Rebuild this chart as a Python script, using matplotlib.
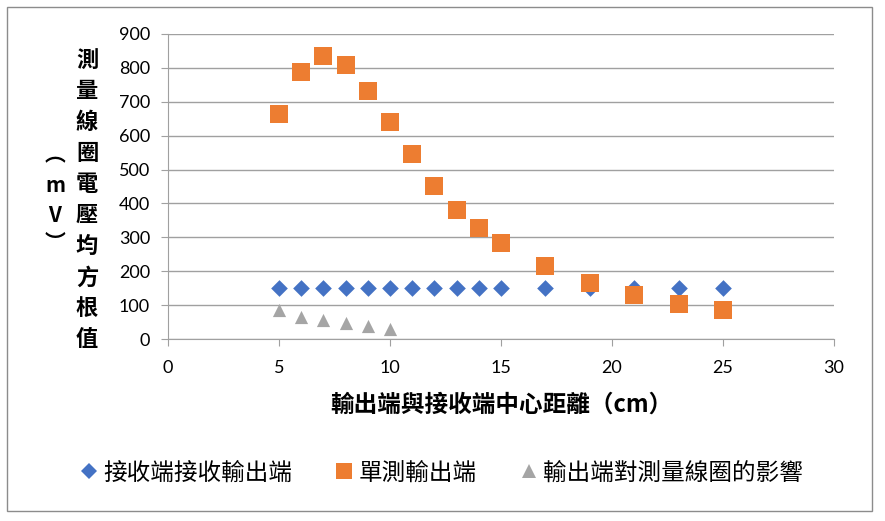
import matplotlib.pyplot as plt
from matplotlib.patches import Rectangle
from matplotlib.lines import Line2D

# data
dist_recv = [5, 6, 7, 8, 9, 10, 11, 12, 13, 14, 15, 17, 19, 21, 23, 25]
volt_recv = [150, 150, 150, 150, 150, 150, 150, 150, 150, 150, 150, 150, 150, 150, 150, 150]

dist_single = [5, 6, 7, 8, 9, 10, 11, 12, 13, 14, 15, 17, 19, 21, 23, 25]
volt_single = [664, 788, 835, 808, 732, 640, 546, 451, 381, 327, 283, 215, 165, 130, 103, 86]

dist_effect = [5, 6, 7, 8, 9, 10]
volt_effect = [85, 65, 55, 47, 37, 30]

names = ['接收端接收輸出端', '單測輸出端', '輸出端對測量線圈的影響']
colors = ['#4472C4', '#ED7D31', '#A5A5A5']

cjk = ['Noto Sans CJK TC', 'DejaVu Sans']
grey = '#a0a0a0'

fig = plt.figure(figsize=(8.85, 5.21), dpi=100)
ax = fig.add_axes([168/885, 1 - 339/521, (834-168)/885, (339-34)/521])

ax.scatter(dist_recv, volt_recv, marker='D', s=72, color=colors[0], linewidths=0, zorder=3)
ax.scatter(dist_single, volt_single, marker='s', s=150, color=colors[1], linewidths=0, zorder=4)
ax.scatter(dist_effect, volt_effect, marker='^', s=90, color=colors[2], linewidths=0, zorder=3)

ax.set_xlim(0, 30)
ax.set_ylim(0, 900)
ax.set_xticks(range(0, 31, 5))
ax.set_yticks(range(0, 901, 100))
ax.yaxis.grid(True, color=grey, lw=1)
ax.set_axisbelow(True)
for s in ['top', 'right']:
    ax.spines[s].set_visible(False)
for s in ['left', 'bottom']:
    ax.spines[s].set_color(grey)
ax.tick_params(axis='both', direction='out', length=5, color=grey, labelsize=13)
ax.tick_params(axis='x', pad=10)
ax.tick_params(axis='y', pad=8)
for lab in ax.get_xticklabels() + ax.get_yticklabels():
    lab.set_family('Lato')

ax.set_xlabel('輸出端與接收端中心距離（cm）', family=cjk, fontsize=17, fontweight='bold', labelpad=12)

# vertical stacked y label, Excel style
ylab1 = '測量線圈電壓均方根值'
for i, ch in enumerate(ylab1):
    fig.text(87/885, 1 - (60 + i*31.1)/521, ch, family=cjk, fontsize=16, fontweight='bold',
             ha='center', va='center')
ylab2 = ['︵', 'm', 'V', '︶']
ypos2 = [155, 186, 216, 242]
for ch, yp in zip(ylab2, ypos2):
    fig.text(55/885, 1 - yp/521, ch, family=cjk, fontsize=15, fontweight='bold',
             ha='center', va='center')

handles = [Line2D([], [], ls='none', marker='D', ms=8.5, color=colors[0], mew=0),
           Line2D([], [], ls='none', marker='s', ms=11, color=colors[1], mew=0),
           Line2D([], [], ls='none', marker='^', ms=10, color=colors[2], mew=0)]
fig.legend(handles, names, loc='center', bbox_to_anchor=(0.5, 1 - 473/521), ncol=3,
           frameon=False, prop={'family': cjk, 'size': 17}, handlelength=0.6,
           handletextpad=0.3, columnspacing=1.9)

fig.patches.append(Rectangle((7/885, 1 - 511/521), 865/885, 504/521, transform=fig.transFigure,
                             fill=False, edgecolor='#8c8c8c', lw=1))

fig.savefig('out.png', dpi=100)
